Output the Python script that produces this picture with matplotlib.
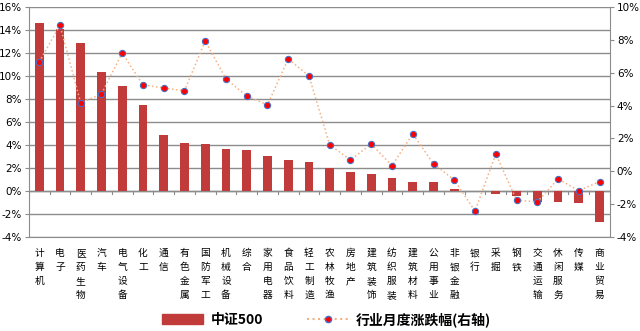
import numpy as np
import matplotlib.pyplot as plt
from matplotlib.lines import Line2D
from matplotlib.patches import Patch

plt.rcParams['font.family'] = ['Noto Sans CJK SC', 'DejaVu Sans']

industries = ["计算机", "电子", "医药生物", "汽车", "电气设备", "化工", "通信", "有色金属",
              "国防军工", "机械设备", "综合", "家用电器", "食品饮料", "轻工制造", "农林牧渔",
              "房地产", "建筑装饰", "纺织服装", "建筑材料", "公用事业", "非银金融", "银行",
              "采掘", "钢铁", "交通运输", "休闲服务", "传媒", "商业贸易"]

# 中证500 (left axis, %)
csi500 = [14.58, 14.06, 12.84, 10.35, 9.13, 7.48, 4.87, 4.15, 4.09, 3.62, 3.57, 3.04,
          2.70, 2.52, 1.97, 1.62, 1.48, 1.10, 0.75, 0.75, 0.17, -0.02, -0.29, -0.41,
          -1.00, -1.00, -1.07, -2.72]

# 行业月度涨跌幅 (right axis, %)
monthly = [6.65, 8.90, 4.16, 4.70, 7.20, 5.25, 5.07, 4.89, 7.93, 5.62, 4.58, 4.04,
           6.84, 5.80, 1.60, 0.69, 1.66, 0.34, 2.27, 0.46, -0.53, -2.42, 1.05, -1.75,
           -1.87, -0.47, -1.18, -0.63]

left_ticks = list(range(-4, 17, 2))
right_ticks = list(range(-4, 11, 2))

bar_color = "#c23b3b"
line_color = "#f5b183"
grid_color = "#8c8c8c"

fig = plt.figure(figsize=(6.4, 3.31), dpi=100)
ax = fig.add_axes([0.045, 0.284, 0.908, 0.695])
x = np.arange(len(industries))

ax.bar(x, csi500, width=0.42, color=bar_color, zorder=3)
ax.set_ylim(-4, 16)
ax.set_xlim(-0.5, len(industries) - 0.5)
ax.set_yticks(left_ticks)
ax.set_yticklabels([f"{t}%" for t in left_ticks], fontsize=7.5, family="DejaVu Sans")
ax.yaxis.grid(True, color=grid_color, linewidth=1, zorder=0)
ax.axhline(0, color=grid_color, linewidth=1, zorder=2)
for b in np.arange(len(industries) + 1) - 0.5:
    ax.axvline(b, ymin=0.2 - 0.012, ymax=0.2, color=grid_color, linewidth=0.8, zorder=2)

ax.set_xticks(x)
ax.set_xticklabels(["\n".join(n) for n in industries], fontsize=7, va="top",
                   linespacing=1.5)
ax.tick_params(axis="x", length=0, pad=8)
ax.tick_params(axis="y", length=3, color=grid_color, pad=2)
for s in ["top", "right"]:
    ax.spines[s].set_visible(False)
ax.spines["left"].set_color(grid_color)
ax.spines["bottom"].set_color(grid_color)

ax2 = ax.twinx()
ax2.plot(x, monthly, linestyle=":", color=line_color, linewidth=1.1,
         marker="o", markersize=4.5, markerfacecolor="red",
         markeredgecolor="#4a6fc4", markeredgewidth=0.8, zorder=4)
ax2.set_ylim(-4, 10)
ax2.set_yticks(right_ticks)
ax2.set_yticklabels([f"{t}%" for t in right_ticks], fontsize=7.5, family="DejaVu Sans")
ax2.tick_params(axis="y", length=3, color=grid_color, pad=2)
for s in ["top", "left", "bottom"]:
    ax2.spines[s].set_visible(False)
ax2.spines["right"].set_color(grid_color)

handles = [Patch(color=bar_color),
           Line2D([], [], linestyle=":", color=line_color, marker="o", markersize=4.5,
                  markerfacecolor="red", markeredgecolor="#4a6fc4")]
fig.legend(handles, ["中证500", "行业月度涨跌幅(右轴)"], loc="lower center",
           bbox_to_anchor=(0.51, -0.025), ncol=2, frameon=False, columnspacing=3.2,
           handlelength=3.0, handletextpad=0.5, prop={"size": 10, "weight": "bold"})

fig.savefig("out.png", dpi=100)
